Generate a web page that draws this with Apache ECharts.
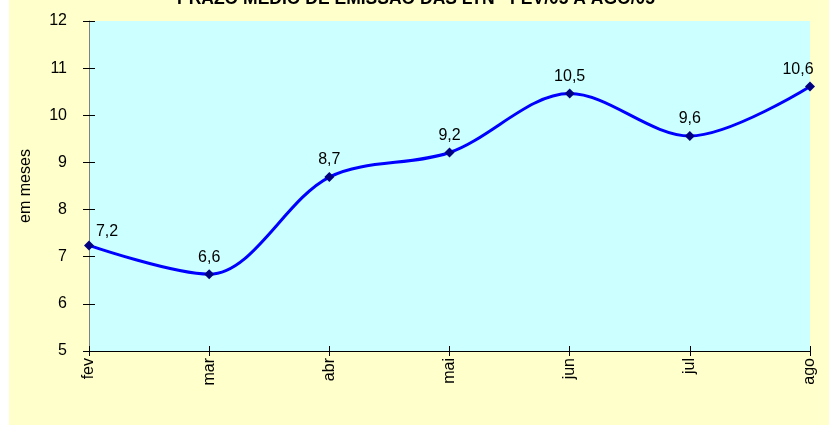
<!DOCTYPE html>
<html>
<head>
<meta charset="utf-8">
<script src="https://cdn.jsdelivr.net/npm/echarts@6/dist/echarts.min.js"></script>
<style>
html,body{margin:0;padding:0;background:#fff;}
#c{width:829px;height:425px;}
</style>
</head>
<body>
<div id="c"></div>
<script>
const titleText = 'PRAZO MÉDIO DE EMISSÃO DAS LTN - FEV/05 A AGO/05';
const yAxisName = 'em meses';
const categories = ['fev', 'mar', 'abr', 'mai', 'jun', 'jul', 'ago'];
const values = [7.24, 6.63, 8.69, 9.21, 10.46, 9.56, 10.61];
const yMin = 5, yMax = 12, yStep = 1;

const FONT = '"Liberation Sans", Arial, sans-serif';
const chart = echarts.init(document.getElementById('c'));

const fmt = v => v.toFixed(1).replace('.', ',');

const seriesData = values.map((v, i) => {
  const d = { value: v };
  if (i === 0) d.label = { offset: [18, 3] };
  if (i === values.length - 1) d.label = { offset: [-12, 0] };
  return d;
});

chart.setOption({
  backgroundColor: '#ffffff',
  animation: false,
  graphic: [{
    type: 'rect', left: 9, top: 0, z: -10,
    shape: { width: 820, height: 425 },
    style: { fill: '#FFFFCC' }
  }],
  title: {
    text: titleText, left: 411, top: -15, textAlign: 'center',
    textStyle: { fontFamily: FONT, fontSize: 17.5, fontWeight: 'bold', color: '#000' }
  },
  grid: {
    left: 89, top: 21, right: 19, bottom: 74,
    show: true, backgroundColor: '#CCFFFF', borderWidth: 0
  },
  xAxis: [{
    type: 'category', data: categories, boundaryGap: false,
    axisLine: { lineStyle: { color: '#000', width: 1 } },
    axisTick: { show: true, length: 5, alignWithLabel: true, lineStyle: { color: '#000' } },
    axisLabel: { rotate: 90, margin: 7, fontFamily: FONT, fontSize: 16, color: '#000' },
    splitLine: { show: false }
  }, {
    type: 'category', data: categories, boundaryGap: false, position: 'bottom',
    axisLine: { show: false },
    axisTick: { show: true, inside: true, length: 5, lineStyle: { color: '#000' } },
    axisLabel: { show: false }, splitLine: { show: false }
  }],
  yAxis: [{
    type: 'value', min: yMin, max: yMax, interval: yStep,
    name: yAxisName, nameLocation: 'middle', nameGap: 55, nameRotate: 90,
    nameTextStyle: { fontFamily: FONT, fontSize: 16, color: '#000' },
    axisLine: { show: true, lineStyle: { color: '#808080', width: 1 } },
    axisTick: { show: true, length: 6, lineStyle: { color: '#000' } },
    axisLabel: { margin: 22, fontFamily: FONT, fontSize: 16, color: '#000' },
    splitLine: { show: false }
  }, {
    type: 'value', min: yMin, max: yMax, interval: yStep, position: 'left',
    axisLine: { show: false },
    axisTick: { show: true, inside: true, length: 6, lineStyle: { color: '#000' } },
    axisLabel: { show: false }, splitLine: { show: false }
  }],
  series: [{
    type: 'line', data: seriesData, smooth: 0.33,
    lineStyle: { color: '#0000FF', width: 3 },
    symbol: 'diamond', symbolSize: 10,
    itemStyle: { color: '#000080' },
    label: {
      show: true, position: 'top', distance: 4,
      fontFamily: FONT, fontSize: 16, color: '#000',
      formatter: p => fmt(p.value)
    }
  }]
});
</script>
</body>
</html>
